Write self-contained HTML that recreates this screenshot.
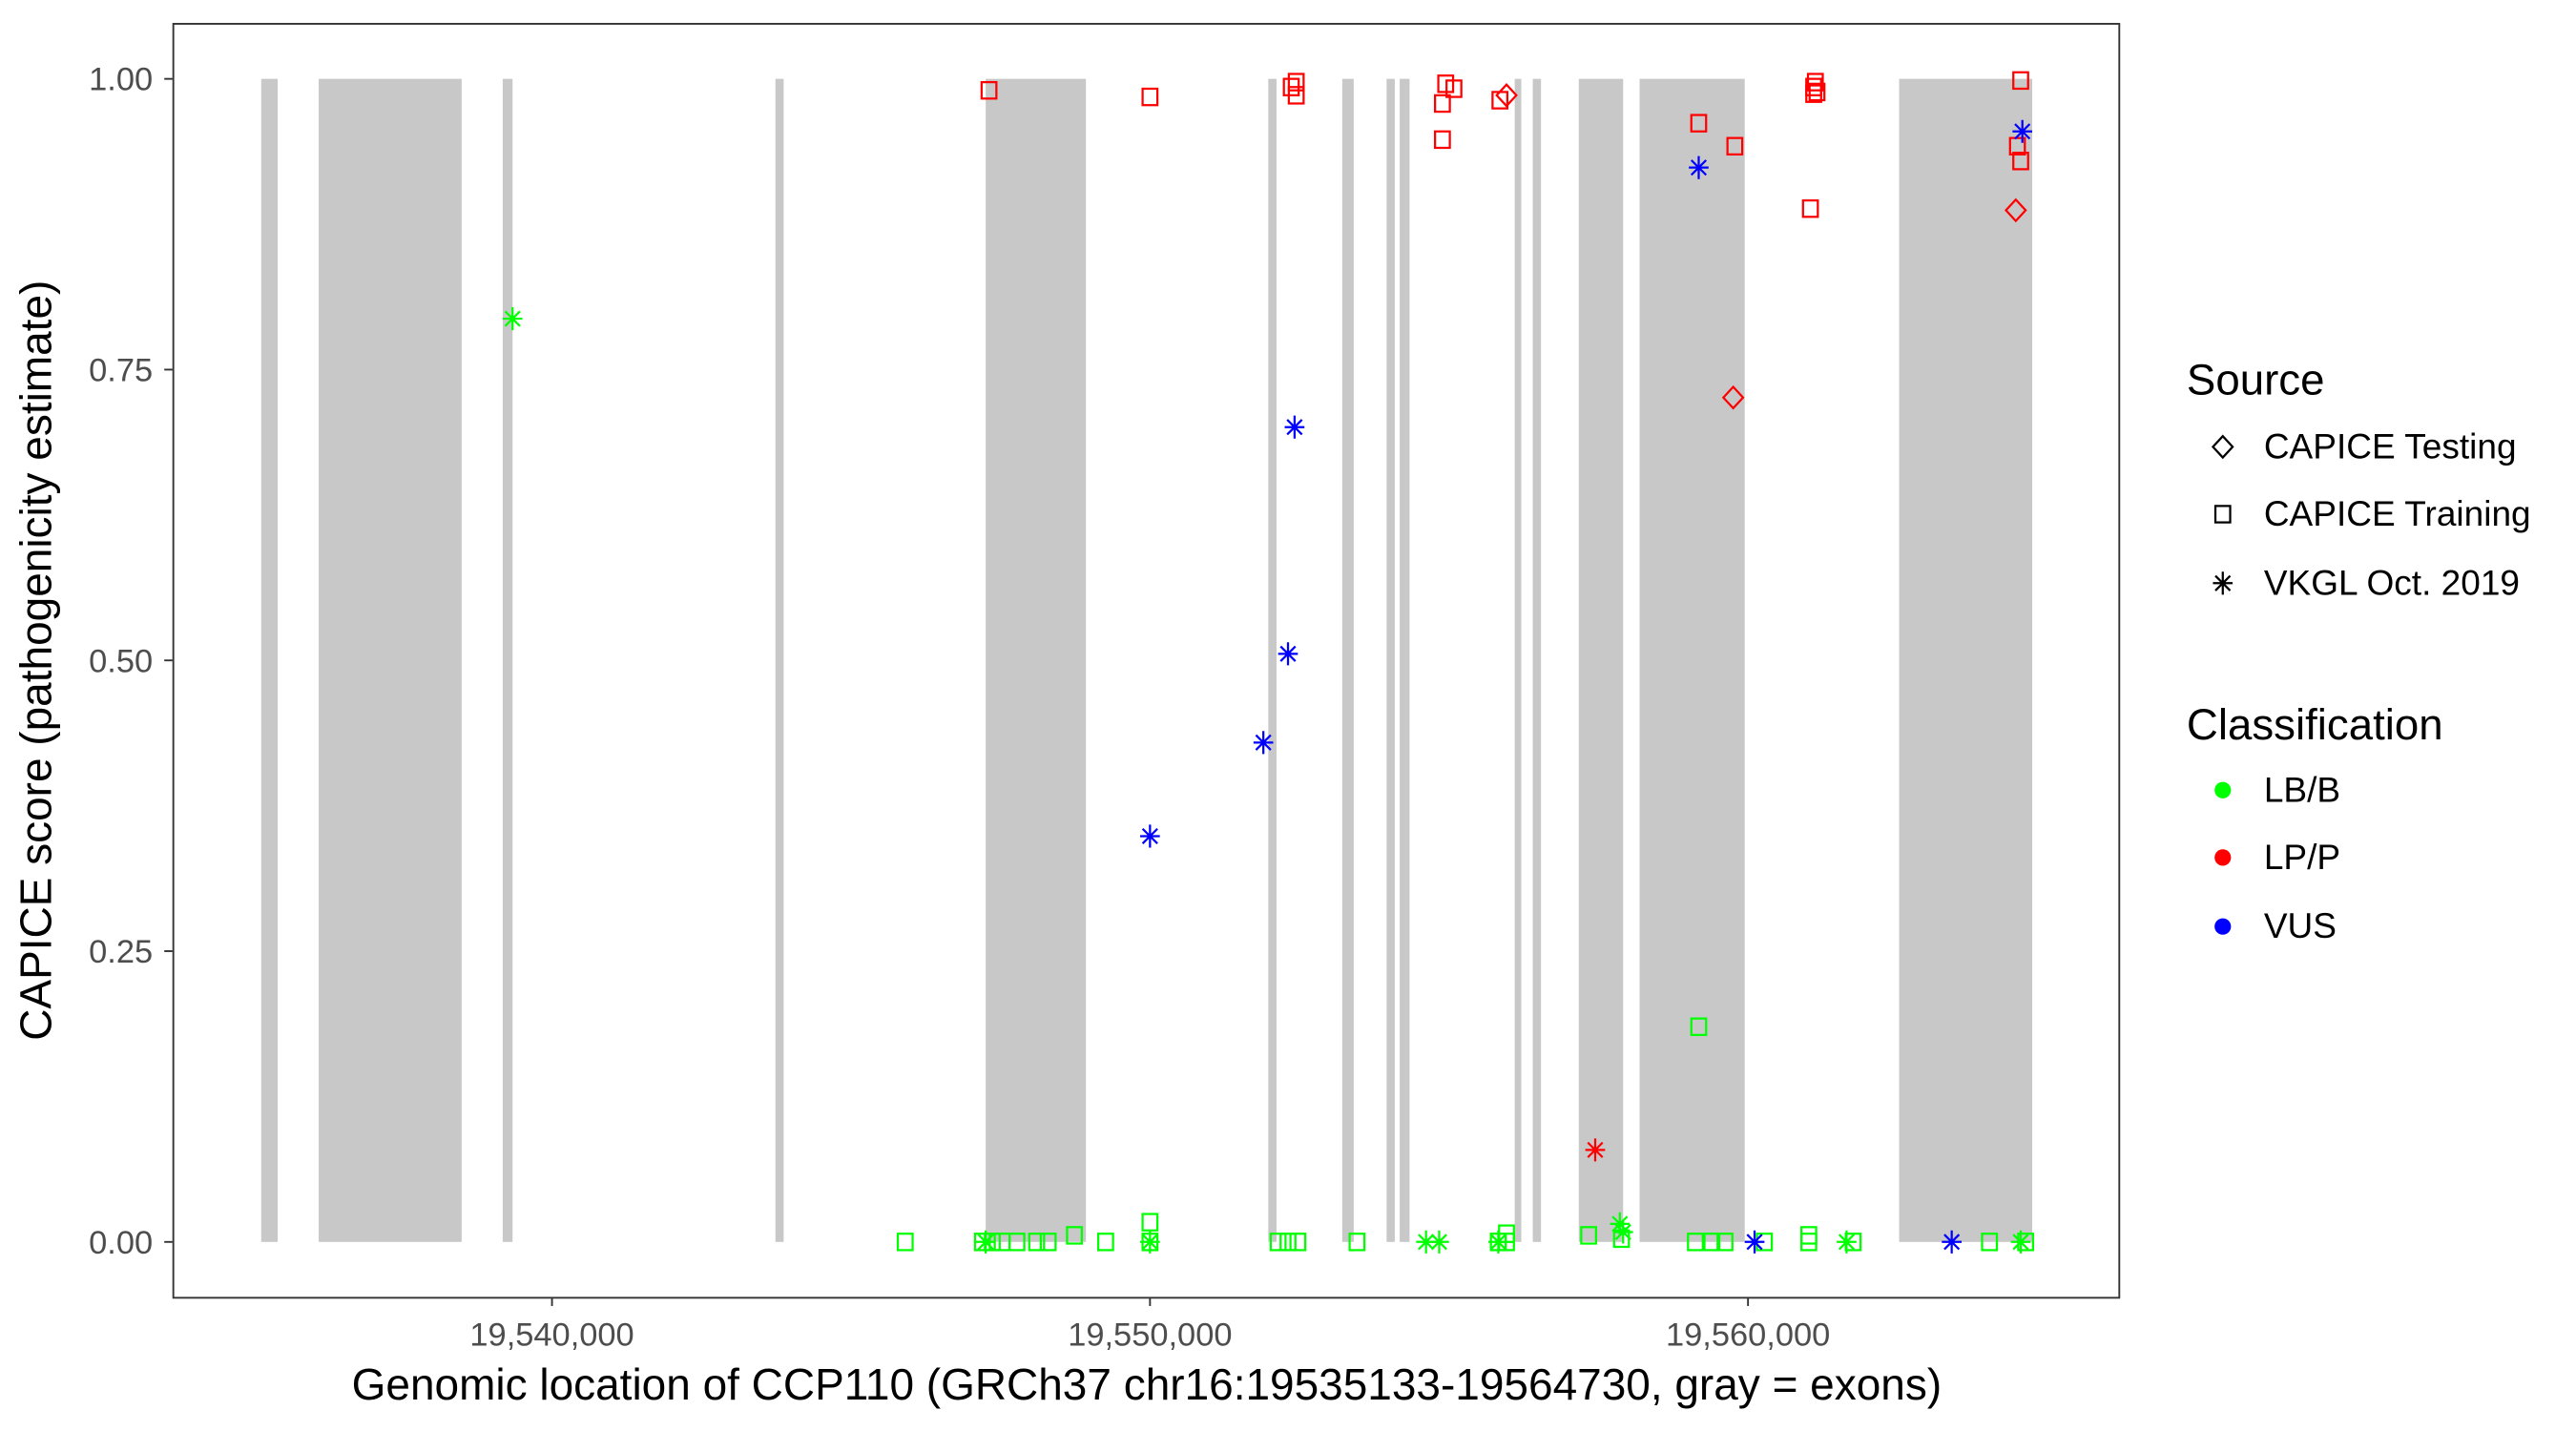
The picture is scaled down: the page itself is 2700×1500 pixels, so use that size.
<!DOCTYPE html>
<html><head><meta charset="utf-8"><style>
html,body{margin:0;padding:0;background:#fff;}
svg{display:block;}
text{font-family:"Liberation Sans",Arial,sans-serif;}
</style></head><body>
<svg id="s" xmlns="http://www.w3.org/2000/svg" width="2700" height="1500" viewBox="0 0 1568 871.1" preserveAspectRatio="none">
<rect x="0" y="0" width="1568" height="872" fill="#fff"/>
<g id="ex" fill="#c8c8c8"></g>
<g id="pts" fill="none" stroke-width="1.3"></g>
<rect x="105.5" y="14.5" width="1184.5" height="775.5" fill="none" stroke="#333" stroke-width="1.1"/>
<g stroke="#333" stroke-width="1.1">
<line x1="100" y1="48" x2="105" y2="48"/><line x1="100" y1="225" x2="105" y2="225"/><line x1="100" y1="402" x2="105" y2="402"/><line x1="100" y1="579" x2="105" y2="579"/><line x1="100" y1="756" x2="105" y2="756"/>
<line x1="336" y1="790" x2="336" y2="795"/><line x1="700" y1="790" x2="700" y2="795"/><line x1="1064" y1="790" x2="1064" y2="795"/>
</g>
<g fill="#4d4d4d" font-size="20" text-anchor="end">
<text x="93" y="55">1.00</text><text x="93" y="232">0.75</text><text x="93" y="409">0.50</text><text x="93" y="586">0.25</text><text x="93" y="763">0.00</text>
</g>
<g fill="#4d4d4d" font-size="20" text-anchor="middle">
<text x="336" y="819">19,540,000</text><text x="700" y="819">19,550,000</text><text x="1064" y="819">19,560,000</text>
</g>
<text x="698" y="852" font-size="26.7" text-anchor="middle" fill="#000">Genomic location of CCP110 (GRCh37 chr16:19535133-19564730, gray = exons)</text>
<text transform="translate(31,402) rotate(-90)" font-size="26.7" text-anchor="middle" fill="#000">CAPICE score (pathogenicity estimate)</text>
<text x="1331" y="240" font-size="26.5" fill="#000">Source</text>
<text x="1378" y="279" font-size="21.5" fill="#000">CAPICE Testing</text>
<text x="1378" y="320" font-size="21.5" fill="#000">CAPICE Training</text>
<text x="1378" y="362" font-size="21.5" fill="#000">VKGL Oct. 2019</text>
<text x="1331" y="450" font-size="26.5" fill="#000">Classification</text>
<text x="1378" y="488" font-size="21.5" fill="#000">LB/B</text>
<text x="1378" y="529" font-size="21.5" fill="#000">LP/P</text>
<text x="1378" y="571" font-size="21.5" fill="#000">VUS</text>
<g id="leg" fill="none" stroke-width="1.3"></g>
<circle cx="1353" cy="481" r="5" fill="#00ff00"/>
<circle cx="1353" cy="522" r="5" fill="#ff0000"/>
<circle cx="1353" cy="564" r="5" fill="#0000ff"/>
</svg>
<script>
var NS="http://www.w3.org/2000/svg";
function el(p,t,a){var e=document.createElementNS(NS,t);for(var k in a)e.setAttribute(k,a[k]);p.appendChild(e);return e;}
var ex=document.getElementById("ex");
[[159,169],[194,281],[306,312],[472,477],[600,661],[772,777],[817,824],[844,849],[852,858],[922,926],[933,938],[961,988],[998,1062],[1156,1237]].forEach(function(r){el(ex,"rect",{x:r[0],y:48,width:r[1]-r[0],height:708});});
function sq(g,x,y,c){el(g,"rect",{x:x-4.5,y:y-5,width:9,height:10,stroke:c});}
function di(g,x,y,c){el(g,"polygon",{points:(x)+","+(y-6.5)+" "+(x+6)+","+y+" "+x+","+(y+6.5)+" "+(x-6)+","+y,stroke:c});}
function st(g,x,y,c){var d="M"+(x-6)+" "+y+"h12M"+x+" "+(y-7)+"v14M"+(x-4.5)+" "+(y-4.5)+"l9 9M"+(x-4.5)+" "+(y+4.5)+"l9 -9";el(g,"path",{d:d,stroke:c});}
var g=document.getElementById("pts");
var R="#ff0000",B="#0000ff",G="#00ff00";
[[551,756],[598,756],[604,756],[610,756],[619,756],[631,756],[638,756],[654,752],[673,756],[700,744],[700,756],[778,756],[784,756],[790,756],[826,756],[912,756],[917,751],[917,756],[967,752],[987,754],[1032,756],[1042,756],[1050,756],[1074,756],[1101,752],[1101,756],[1128,756],[1211,756],[1233,756],[1034,625]].forEach(function(p){sq(g,p[0],p[1],G);});
[[312,194],[600,756],[700,756],[868,756],[876,756],[912,756],[986,745],[988,750],[1124,756],[1230,756]].forEach(function(p){st(g,p[0],p[1],G);});
[[602,55],[700,59],[786,53],[789,50],[789,58],[880,51],[878,63],[885,54],[878,85],[913,61],[1034,75],[1056,89],[1102,127],[1104,57],[1104,53],[1105,50],[1106,56],[1230,49],[1228,89],[1230,98]].forEach(function(p){sq(g,p[0],p[1],R);});
[[917,58],[1055,242],[1227,128]].forEach(function(p){di(g,p[0],p[1],R);});
st(g,971,700,R);
[[788,260],[784,398],[769,452],[700,509],[1034,102],[1231,80],[1068,756],[1188,756]].forEach(function(p){st(g,p[0],p[1],B);});
var l=document.getElementById("leg");
di(l,1353,272,"#000");sq(l,1353,313,"#000");st(l,1353,355,"#000");
</script>
</body></html>
